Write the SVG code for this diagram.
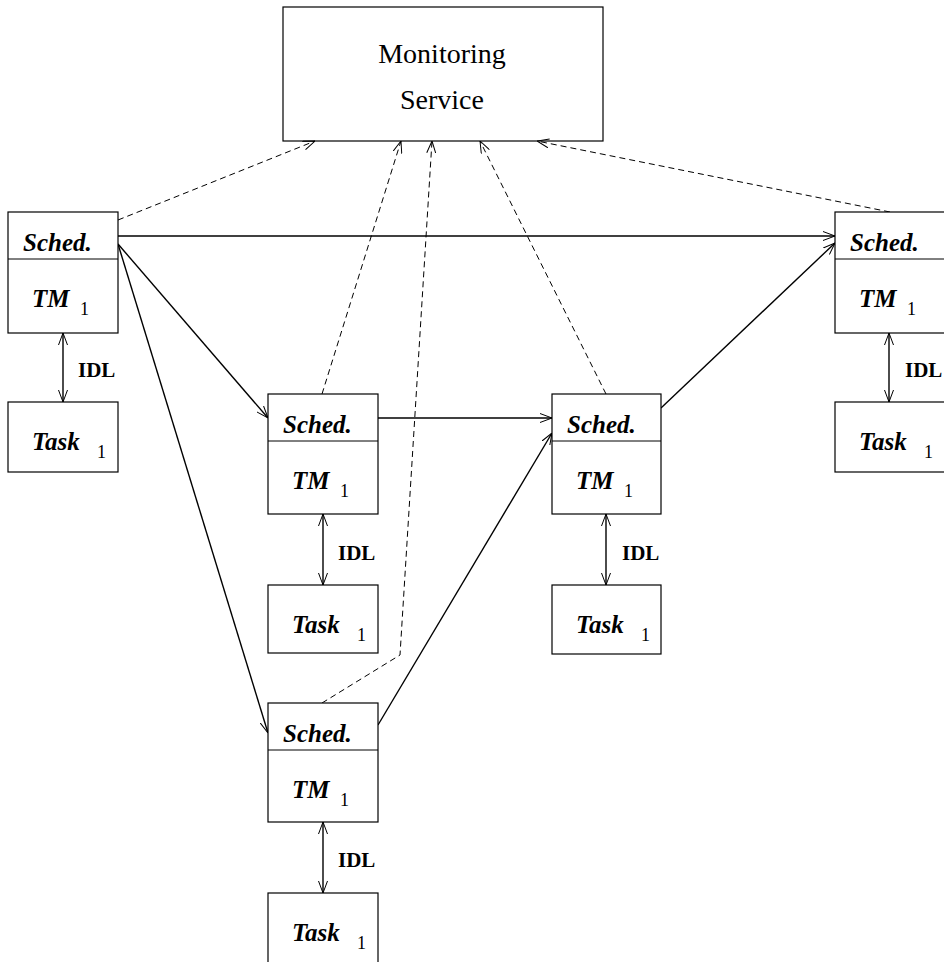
<svg xmlns="http://www.w3.org/2000/svg" width="944" height="962" viewBox="0 0 944 962">
<defs>
<style>
.box{fill:#fff;stroke:#000;stroke-width:1.2}
.div{stroke:#000;stroke-width:1}
.s{fill:none;stroke:#000;stroke-width:1.4}
.d{fill:none;stroke:#000;stroke-width:1;stroke-dasharray:6 4}
.bi{font-family:"Liberation Serif","Times New Roman",serif;font-weight:bold;font-style:italic;font-size:25px;fill:#000}
.sub{font-family:"Liberation Serif","Times New Roman",serif;font-size:18px;fill:#000}
.idl{font-family:"Liberation Serif","Times New Roman",serif;font-weight:bold;font-size:21px;fill:#000}
.mon{font-family:"Liberation Serif","Times New Roman",serif;font-size:28px;fill:#000}
</style>
<marker id="ah" viewBox="0 0 12 10" refX="12" refY="5" markerWidth="12" markerHeight="10" markerUnits="userSpaceOnUse" orient="auto-start-reverse">
<path d="M0,0.5 L12,5 L0,9.5" fill="none" stroke="#000" stroke-width="1" stroke-dasharray="none"/>
</marker>
</defs>
<rect width="944" height="962" fill="#fff"/>

<g id="monitoring">
<rect class="box" x="283" y="7" width="320" height="134"/>
<text class="mon" x="442" y="63" text-anchor="middle">Monitoring</text>
<text class="mon" x="442" y="109" text-anchor="middle">Service</text>
</g>

<g id="connectors">
<line class="s" x1="118" y1="236" x2="835" y2="236" marker-end="url(#ah)"/>
<line class="s" x1="118" y1="244" x2="268" y2="418" marker-end="url(#ah)"/>
<line class="s" x1="118" y1="244" x2="268" y2="733" marker-end="url(#ah)"/>
<line class="s" x1="378" y1="418" x2="552" y2="418" marker-end="url(#ah)"/>
<line class="s" x1="378" y1="725" x2="552" y2="433" marker-end="url(#ah)"/>
<line class="s" x1="661" y1="408" x2="835" y2="243" marker-end="url(#ah)"/>
<line class="d" x1="118" y1="220" x2="315" y2="141" marker-end="url(#ah)"/>
<line class="d" x1="322" y1="394" x2="401" y2="141" marker-end="url(#ah)"/>
<polyline class="d" points="322,703 400,655 432,141" marker-end="url(#ah)"/>
<line class="d" x1="606" y1="394" x2="480" y2="141" marker-end="url(#ah)"/>
<line class="d" x1="890" y1="212" x2="537" y2="141" marker-end="url(#ah)"/>
<line class="s" x1="63" y1="333" x2="63" y2="402" marker-start="url(#ah)" marker-end="url(#ah)"/>
<line class="s" x1="323" y1="514" x2="323" y2="585" marker-start="url(#ah)" marker-end="url(#ah)"/>
<line class="s" x1="323" y1="822" x2="323" y2="893" marker-start="url(#ah)" marker-end="url(#ah)"/>
<line class="s" x1="606" y1="514" x2="606" y2="585" marker-start="url(#ah)" marker-end="url(#ah)"/>
<line class="s" x1="889" y1="333" x2="889" y2="402" marker-start="url(#ah)" marker-end="url(#ah)"/>
</g>

<g id="idl-labels">
<text class="idl" x="78" y="377">IDL</text>
<text class="idl" x="338" y="560">IDL</text>
<text class="idl" x="338" y="867">IDL</text>
<text class="idl" x="622" y="560">IDL</text>
<text class="idl" x="905" y="377">IDL</text>
</g>

<g id="node1">
<rect class="box" x="8" y="212" width="110" height="121"/>
<line class="div" x1="8" y1="259" x2="118" y2="259"/>
<text class="bi" x="23" y="251">Sched.</text>
<text class="bi" x="32" y="307">TM</text>
<text class="sub" x="80" y="315">1</text>
</g>
<g id="task1">
<rect class="box" x="8" y="402" width="110" height="70"/>
<text class="bi" x="32" y="450">Task</text>
<text class="sub" x="97" y="458">1</text>
</g>

<g id="node2">
<rect class="box" x="268" y="394" width="110" height="120"/>
<line class="div" x1="268" y1="441" x2="378" y2="441"/>
<text class="bi" x="283" y="433">Sched.</text>
<text class="bi" x="292" y="489">TM</text>
<text class="sub" x="340" y="497">1</text>
</g>
<g id="task2">
<rect class="box" x="268" y="585" width="110" height="68"/>
<text class="bi" x="292" y="633">Task</text>
<text class="sub" x="357" y="641">1</text>
</g>

<g id="node3">
<rect class="box" x="268" y="703" width="110" height="119"/>
<line class="div" x1="268" y1="750" x2="378" y2="750"/>
<text class="bi" x="283" y="742">Sched.</text>
<text class="bi" x="292" y="798">TM</text>
<text class="sub" x="340" y="806">1</text>
</g>
<g id="task3">
<rect class="box" x="268" y="893" width="110" height="72"/>
<text class="bi" x="292" y="941">Task</text>
<text class="sub" x="357" y="949">1</text>
</g>

<g id="node5">
<rect class="box" x="552" y="394" width="109" height="120"/>
<line class="div" x1="552" y1="441" x2="661" y2="441"/>
<text class="bi" x="567" y="433">Sched.</text>
<text class="bi" x="576" y="489">TM</text>
<text class="sub" x="624" y="497">1</text>
</g>
<g id="task5">
<rect class="box" x="552" y="585" width="109" height="69"/>
<text class="bi" x="576" y="633">Task</text>
<text class="sub" x="641" y="641">1</text>
</g>

<g id="node4">
<rect class="box" x="835" y="212" width="111" height="121"/>
<line class="div" x1="835" y1="259" x2="946" y2="259"/>
<text class="bi" x="850" y="251">Sched.</text>
<text class="bi" x="859" y="307">TM</text>
<text class="sub" x="907" y="315">1</text>
</g>
<g id="task4">
<rect class="box" x="835" y="402" width="111" height="70"/>
<text class="bi" x="859" y="450">Task</text>
<text class="sub" x="924" y="458">1</text>
</g>
</svg>
